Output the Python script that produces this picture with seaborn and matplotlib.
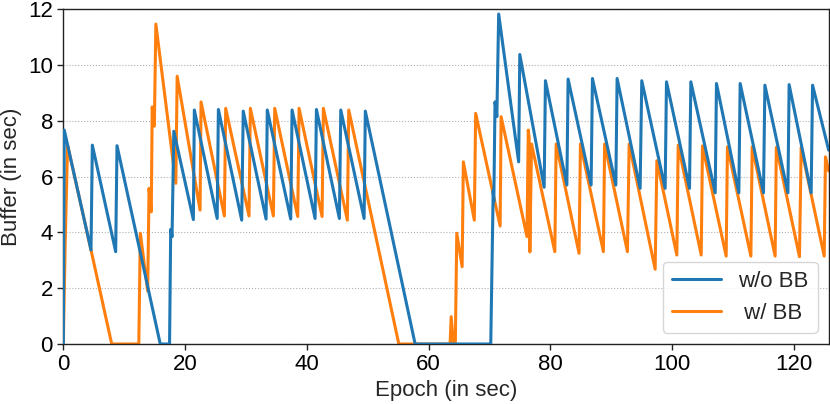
import matplotlib
matplotlib.use("Agg")
import matplotlib.pyplot as plt
import seaborn as sns
import pandas as pd

# w/o BB (blue)
wo_x = [0, 0.16, 4.55, 4.77, 8.6, 8.82, 15.92, 17.45, 17.64, 17.86, 18.15,
        21.36, 21.52, 25.27, 25.47, 29.3, 29.55, 33.3, 33.5, 37.35, 37.57,
        41.35, 41.57, 45.34, 45.57, 49.4, 49.6, 57.78, 70.2, 70.6, 70.7, 70.9,
        71.2, 71.5, 74.78, 74.97, 78.97, 79.18, 82.7, 82.9, 86.68, 86.9,
        90.74, 90.95, 94.73, 95.0, 98.84, 99.06, 102.84, 103.06, 107.06,
        107.27, 110.94, 111.16, 114.99, 115.22, 119.0, 119.2, 122.82, 123.05,
        125.7]
wo_y = [0, 7.67, 3.37, 7.13, 3.31, 7.11, 0, 0, 4.11, 3.85, 7.63,
        4.46, 8.39, 4.5, 8.41, 4.44, 8.35, 4.48, 8.39, 4.48, 8.39,
        4.5, 8.41, 4.5, 8.39, 4.5, 8.35, 0, 0, 5.5, 5.1, 8.68,
        8.15, 11.83, 6.53, 10.38, 5.62, 9.44, 5.7, 9.5, 5.7, 9.52,
        5.7, 9.52, 5.58, 9.44, 5.58, 9.4, 5.58, 9.4, 5.42,
        9.34, 5.42, 9.34, 5.42, 9.28, 5.42, 9.3, 5.42, 9.28,
        6.95]

# w/ BB (orange)
w_x = [0, 0.3, 0.7, 4.55, 7.95, 12.4, 12.65, 13.86, 14.08, 14.45, 14.6,
       14.95, 15.2, 18.48, 18.7, 22.46, 22.62, 26.45, 26.67, 30.5, 30.72,
       34.5, 34.72, 38.5, 38.72, 42.5, 42.71, 46.65, 46.88, 55.1, 63.52,
       63.7, 64.07, 64.38, 64.62, 65.5, 65.7, 67.5, 67.72, 71.74, 71.9,
       76.15, 76.36, 76.5, 76.62, 76.9, 80.72, 80.94, 84.7, 84.93, 88.7,
       88.9, 92.65, 92.93, 97.2, 97.48, 100.76, 100.98, 104.76, 104.97,
       108.86, 109.07, 112.92, 113.13, 116.9, 117.1, 120.9, 121.18, 124.96,
       125.17, 125.7]
w_y = [0, 3.5, 7.13, 3.37, 0, 0, 3.97, 1.9, 5.58, 4.74, 8.5,
       7.81, 11.47, 5.76, 9.6, 4.8, 8.68, 4.59, 8.45, 4.59, 8.45,
       4.59, 8.45, 4.57, 8.45, 4.57, 8.45, 4.44, 8.39, 0, 0,
       0.98, 0, 0, 3.97, 2.77, 6.53, 4.44, 8.27, 4.23, 8.15,
       3.85, 7.67, 7.4, 3.3, 7.17, 3.31, 7.17, 3.25, 7.17, 3.31,
       7.17, 3.31, 7.17, 2.68, 6.57, 3.19, 7.13, 3.19, 7.1,
       3.15, 7.07, 3.15, 7.07, 3.15, 7.05, 3.13, 7.05, 3.15,
       6.71, 6.2]

labels = ["w/o BB", " w/ BB"]
colors = ["#1f77b4", "#ff7f0e"]

sns.set_style("ticks")
plt.rcParams['font.family'] = ['Liberation Sans', 'DejaVu Sans']

fig = plt.figure(figsize=(8.3, 4.04), dpi=100)
ax = fig.add_axes([63.3 / 830, 1 - 344 / 404, (828.7 - 63.3) / 830, (344 - 9.3) / 404])

df_wo = pd.DataFrame({"x": wo_x, "y": wo_y})
df_w = pd.DataFrame({"x": w_x, "y": w_y})

sns.lineplot(data=df_w, x="x", y="y", ax=ax, color=colors[1], lw=2.2,
             sort=False, estimator=None, label=labels[1], zorder=2)
sns.lineplot(data=df_wo, x="x", y="y", ax=ax, color=colors[0], lw=2.2,
             sort=False, estimator=None, label=labels[0], zorder=3)

ax.set_xlim(0, 125.7)
ax.set_ylim(0, 12)
ax.set_xticks([0, 20, 40, 60, 80, 100, 120])
ax.set_yticks([0, 2, 4, 6, 8, 10, 12])
ax.yaxis.grid(True, linestyle=':', color='#b0b0b0', lw=0.8)
ax.xaxis.grid(False)
for s in ax.spines.values():
    s.set_visible(True)
    s.set_color('#222222')
    s.set_linewidth(1.0)
ax.tick_params(axis='both', labelsize=16, direction='out', length=4, width=1, colors='#222222', labelcolor='black')
ax.set_xlabel("Epoch (in sec)", fontsize=16, labelpad=3)
ax.set_ylabel("Buffer (in sec)", fontsize=16, labelpad=4)

h, l = ax.get_legend_handles_labels()
order = [l.index(labels[0]), l.index(labels[1])]
ax.legend([h[i] for i in order], [l[i] for i in order], loc='lower right',
          fontsize=16, handlelength=2.2, frameon=True)

fig.savefig("out.png", dpi=100)
